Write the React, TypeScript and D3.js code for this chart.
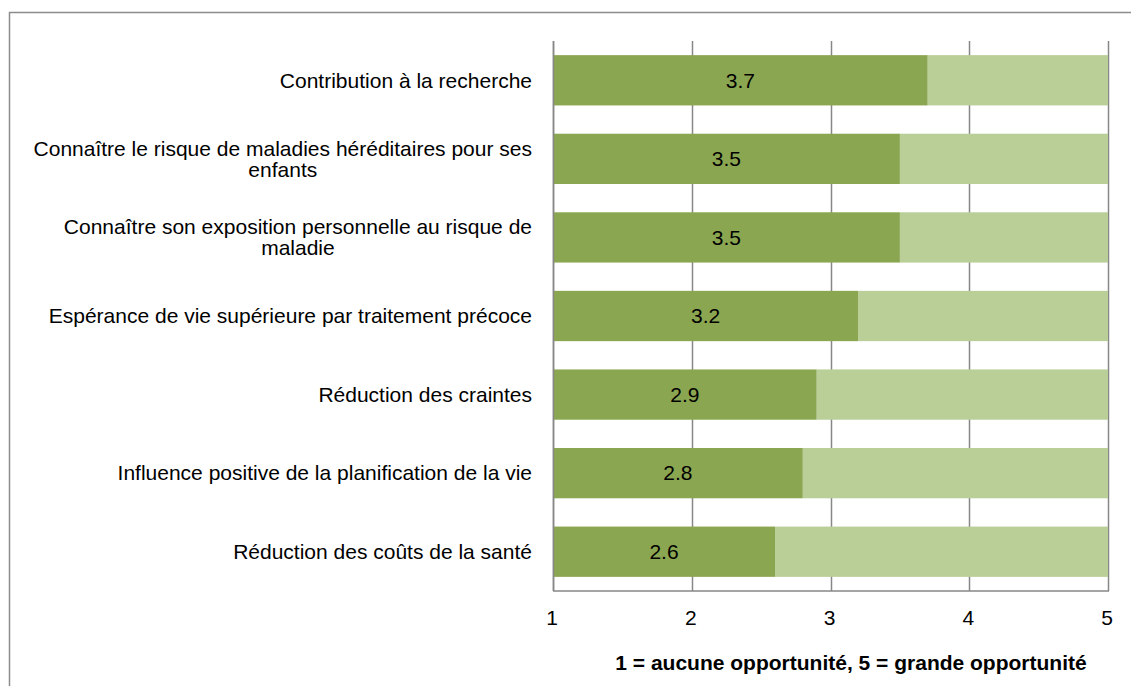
import React, { useEffect, useRef } from "react";
import * as d3 from "d3";

const categories: string[][] = [
  ["Contribution à la recherche"],
  ["Connaître le risque de maladies héréditaires pour ses", "enfants"],
  ["Connaître son exposition personnelle au risque de", "maladie"],
  ["Espérance de vie supérieure par traitement précoce"],
  ["Réduction des craintes"],
  ["Influence positive de la planification de la vie"],
  ["Réduction des coûts de la santé"],
];
const values: number[] = [3.7, 3.5, 3.5, 3.2, 2.9, 2.8, 2.6];
const tickValues: number[] = [1, 2, 3, 4, 5];
const axisTitle = "1 = aucune opportunité, 5 = grande opportunité";

const W = 1131;
const H = 686;
const FONT = "'Liberation Sans', Arial, sans-serif";
const FS = 21;
const DARK = "#8BA650";
const LIGHT = "#BACE97";
const GRID = "#878787";

export default function App() {
  const ref = useRef<SVGSVGElement>(null);

  useEffect(() => {
    const svg = d3.select(ref.current);
    svg.selectAll("*").remove();

    const left = 553, right = 1108, top = 41, bottom = 591;
    const x = d3.scaleLinear().domain([1, 5]).range([left, right]);
    const y = d3
      .scaleBand<number>()
      .domain(d3.range(categories.length))
      .range([top, bottom])
      .paddingInner(0.36)
      .paddingOuter(0.18);

    // frame
    svg.append("rect")
      .attr("x", 9.5).attr("y", 12.5)
      .attr("width", W + 20).attr("height", H + 20)
      .attr("fill", "white").attr("stroke", "#8c8c8c").attr("stroke-width", 1.5);

    // gridlines
    svg.append("g").selectAll("line").data(tickValues).join("line")
      .attr("x1", (d) => Math.round(x(d)) + 0.5).attr("x2", (d) => Math.round(x(d)) + 0.5)
      .attr("y1", top).attr("y2", bottom)
      .attr("stroke", GRID).attr("stroke-width", 1.5);

    // bars
    const g = svg.append("g");
    g.selectAll("rect.light").data(values).join("rect")
      .attr("class", "light")
      .attr("x", (d) => x(d)).attr("y", (_, i) => y(i)!)
      .attr("width", (d) => x(5) - x(d)).attr("height", y.bandwidth())
      .attr("fill", LIGHT);
    g.selectAll("rect.dark").data(values).join("rect")
      .attr("class", "dark")
      .attr("x", x(1)).attr("y", (_, i) => y(i)!)
      .attr("width", (d) => x(d) - x(1)).attr("height", y.bandwidth())
      .attr("fill", DARK);
    g.selectAll("text.val").data(values).join("text")
      .attr("class", "val")
      .attr("x", (d) => (x(1) + x(d)) / 2)
      .attr("y", (_, i) => y(i)! + y.bandwidth() / 2)
      .attr("dy", "0.35em")
      .attr("text-anchor", "middle")
      .attr("font-family", FONT).attr("font-size", FS)
      .attr("fill", "#000")
      .text((d) => d.toFixed(1));

    // axes lines
    svg.append("line")
      .attr("x1", left).attr("x2", right + 1)
      .attr("y1", bottom).attr("y2", bottom)
      .attr("stroke", GRID).attr("stroke-width", 1.5);
    svg.append("line")
      .attr("x1", Math.round(left) + 0.5).attr("x2", Math.round(left) + 0.5)
      .attr("y1", top).attr("y2", bottom)
      .attr("stroke", GRID).attr("stroke-width", 1.5);

    // tick labels
    svg.append("g").selectAll("text").data(tickValues).join("text")
      .attr("x", (d) => x(d) - 1).attr("y", 617.5).attr("dy", "0.35em")
      .attr("text-anchor", "middle")
      .attr("font-family", FONT).attr("font-size", FS)
      .text((d) => String(d));

    // category labels
    const labelRight = 532;
    const lineH = 21;
    categories.forEach((lines, i) => {
      const cy = y(i)! + y.bandwidth() / 2;
      const grp = svg.append("g");
      const texts = grp.selectAll("text").data(lines).join("text")
        .attr("font-family", FONT).attr("font-size", FS)
        .attr("dy", "0.35em")
        .attr("y", (_, j) => cy + (j - (lines.length - 1) / 2) * lineH)
        .text((d) => d);
      let maxW = 0;
      texts.each(function () {
        maxW = Math.max(maxW, (this as SVGTextElement).getComputedTextLength());
      });
      texts.attr("text-anchor", "middle").attr("x", labelRight - maxW / 2);
    });

    // axis title
    svg.append("text")
      .attr("x", 851).attr("y", 663).attr("dy", "0.35em")
      .attr("text-anchor", "middle")
      .attr("font-family", FONT).attr("font-size", FS).attr("font-weight", "bold")
      .text(axisTitle);
  }, []);

  return (
    <svg
      ref={ref}
      width={W}
      height={H}
      style={{ position: "absolute", left: 0, top: 0, background: "white" }}
    />
  );
}
